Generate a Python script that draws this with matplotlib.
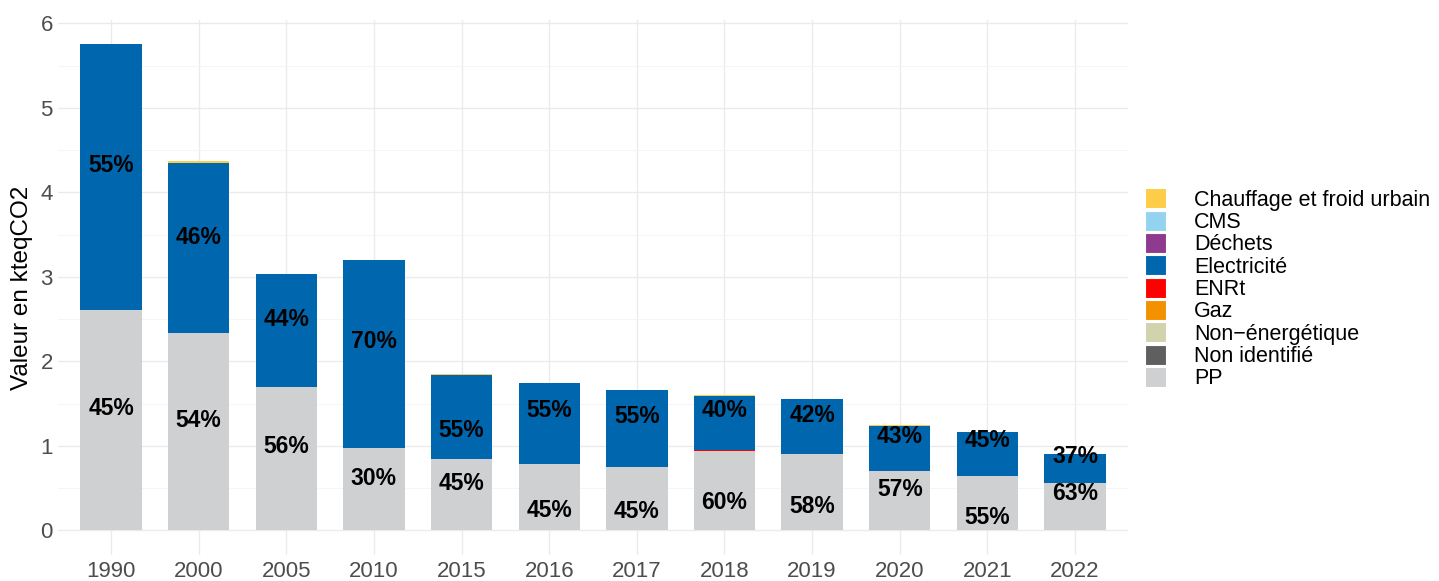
import matplotlib
matplotlib.use("Agg")
import matplotlib.pyplot as plt
import numpy as np
from matplotlib.patches import Patch

plt.rcParams['font.family'] = ['Liberation Sans', 'DejaVu Sans']

years = ['1990', '2000', '2005', '2010', '2015', '2016', '2017', '2018', '2019', '2020', '2021', '2022']

# values in kteqCO2
pp = [2.61, 2.33, 1.70, 0.97, 0.84, 0.79, 0.745, 0.945, 0.90, 0.70, 0.64, 0.565]
non_identifie = [0, 0, 0, 0, 0, 0, 0, 0, 0, 0, 0, 0]
non_energetique = [0, 0, 0, 0, 0, 0, 0, 0, 0, 0, 0, 0]
gaz = [0, 0.01, 0, 0, 0, 0, 0, 0, 0, 0, 0, 0]
enrt = [0, 0, 0, 0, 0, 0, 0, 0.012, 0, 0, 0, 0]
electricite = [3.14, 2.01, 1.335, 2.23, 1.0, 0.95, 0.92, 0.63, 0.65, 0.53, 0.53, 0.345]
dechets = [0, 0, 0, 0, 0, 0, 0, 0, 0, 0, 0, 0]
cms = [0, 0, 0, 0, 0, 0, 0, 0, 0, 0, 0, 0]
chauffage = [0, 0.015, 0, 0, 0.012, 0, 0, 0.012, 0, 0.012, 0, 0]

# percentage labels and the heights they sit at
pct_elec = ['55%', '46%', '44%', '70%', '55%', '55%', '55%', '40%', '42%', '43%', '45%', '37%']
pct_pp = ['45%', '54%', '56%', '30%', '45%', '45%', '45%', '60%', '58%', '57%', '55%', '63%']
lab_y_elec = [4.32, 3.47, 2.50, 2.23, 1.18, 1.42, 1.35, 1.42, 1.36, 1.11, 1.06, 0.87]
lab_y_pp = [1.44, 1.30, 0.99, 0.61, 0.555, 0.24, 0.22, 0.33, 0.28, 0.48, 0.15, 0.44]

sectors = ['Chauffage et froid urbain', 'CMS', 'Déchets', 'Electricité', 'ENRt', 'Gaz',
           'Non\u2212énergétique', 'Non identifié', 'PP']
colors = ['#FDCD47', '#93D3F0', '#8E3A8E', '#0066AE', '#FF0000', '#F39200',
          '#D1D3AE', '#5F5F5F', '#CFD0D2']
series = [chauffage, cms, dechets, electricite, enrt, gaz, non_energetique, non_identifie, pp]

fig = plt.figure(figsize=(14.39, 5.81), dpi=100)
ax = fig.add_axes([0.0406, 0.0448, 0.743, 0.921])

x = np.arange(len(years))
bottom = np.zeros(len(years))
# ggplot stacks the last level at the bottom
for vals, col in zip(series[::-1], colors[::-1]):
    ax.bar(x, vals, width=0.7, bottom=bottom, color=col, linewidth=0, zorder=2)
    bottom = bottom + np.array(vals)

for i in range(len(years)):
    ax.text(x[i], lab_y_elec[i], pct_elec[i], ha='center', va='center',
            fontsize=16.5, fontweight='bold', color='black', zorder=3)
    ax.text(x[i], lab_y_pp[i], pct_pp[i], ha='center', va='center',
            fontsize=16.5, fontweight='bold', color='black', zorder=3)

ax.set_xlim(-0.6, len(years) - 0.4)
ax.set_ylim(-0.29, 6.04)
ax.set_xticks(x)
ax.set_xticklabels(years)
ax.set_yticks(range(0, 7))
ax.set_yticks(np.arange(0.5, 6, 1), minor=True)
ax.grid(True, which='major', color='#EBEBEB', linewidth=1.0, zorder=0)
ax.grid(True, which='minor', axis='y', color='#F4F4F4', linewidth=0.6, zorder=0)
ax.set_axisbelow(True)
for s in ax.spines.values():
    s.set_visible(False)
ax.tick_params(axis='both', which='both', length=0, labelsize=16, labelcolor='#4D4D4D', pad=4)
ax.set_ylabel('Valeur en kteqCO2', fontsize=17.5, color='black', labelpad=5)

handles = [Patch(facecolor=c, edgecolor='white', linewidth=0.8) for c in colors]
fig.legend(handles, sectors, loc='center left', bbox_to_anchor=(0.7895, 0.503),
           frameon=False, fontsize=15.5, handlelength=0.98, handleheight=1.05,
           labelspacing=0.0, handletextpad=1.3, borderaxespad=0)

fig.savefig('out.png', dpi=100)
